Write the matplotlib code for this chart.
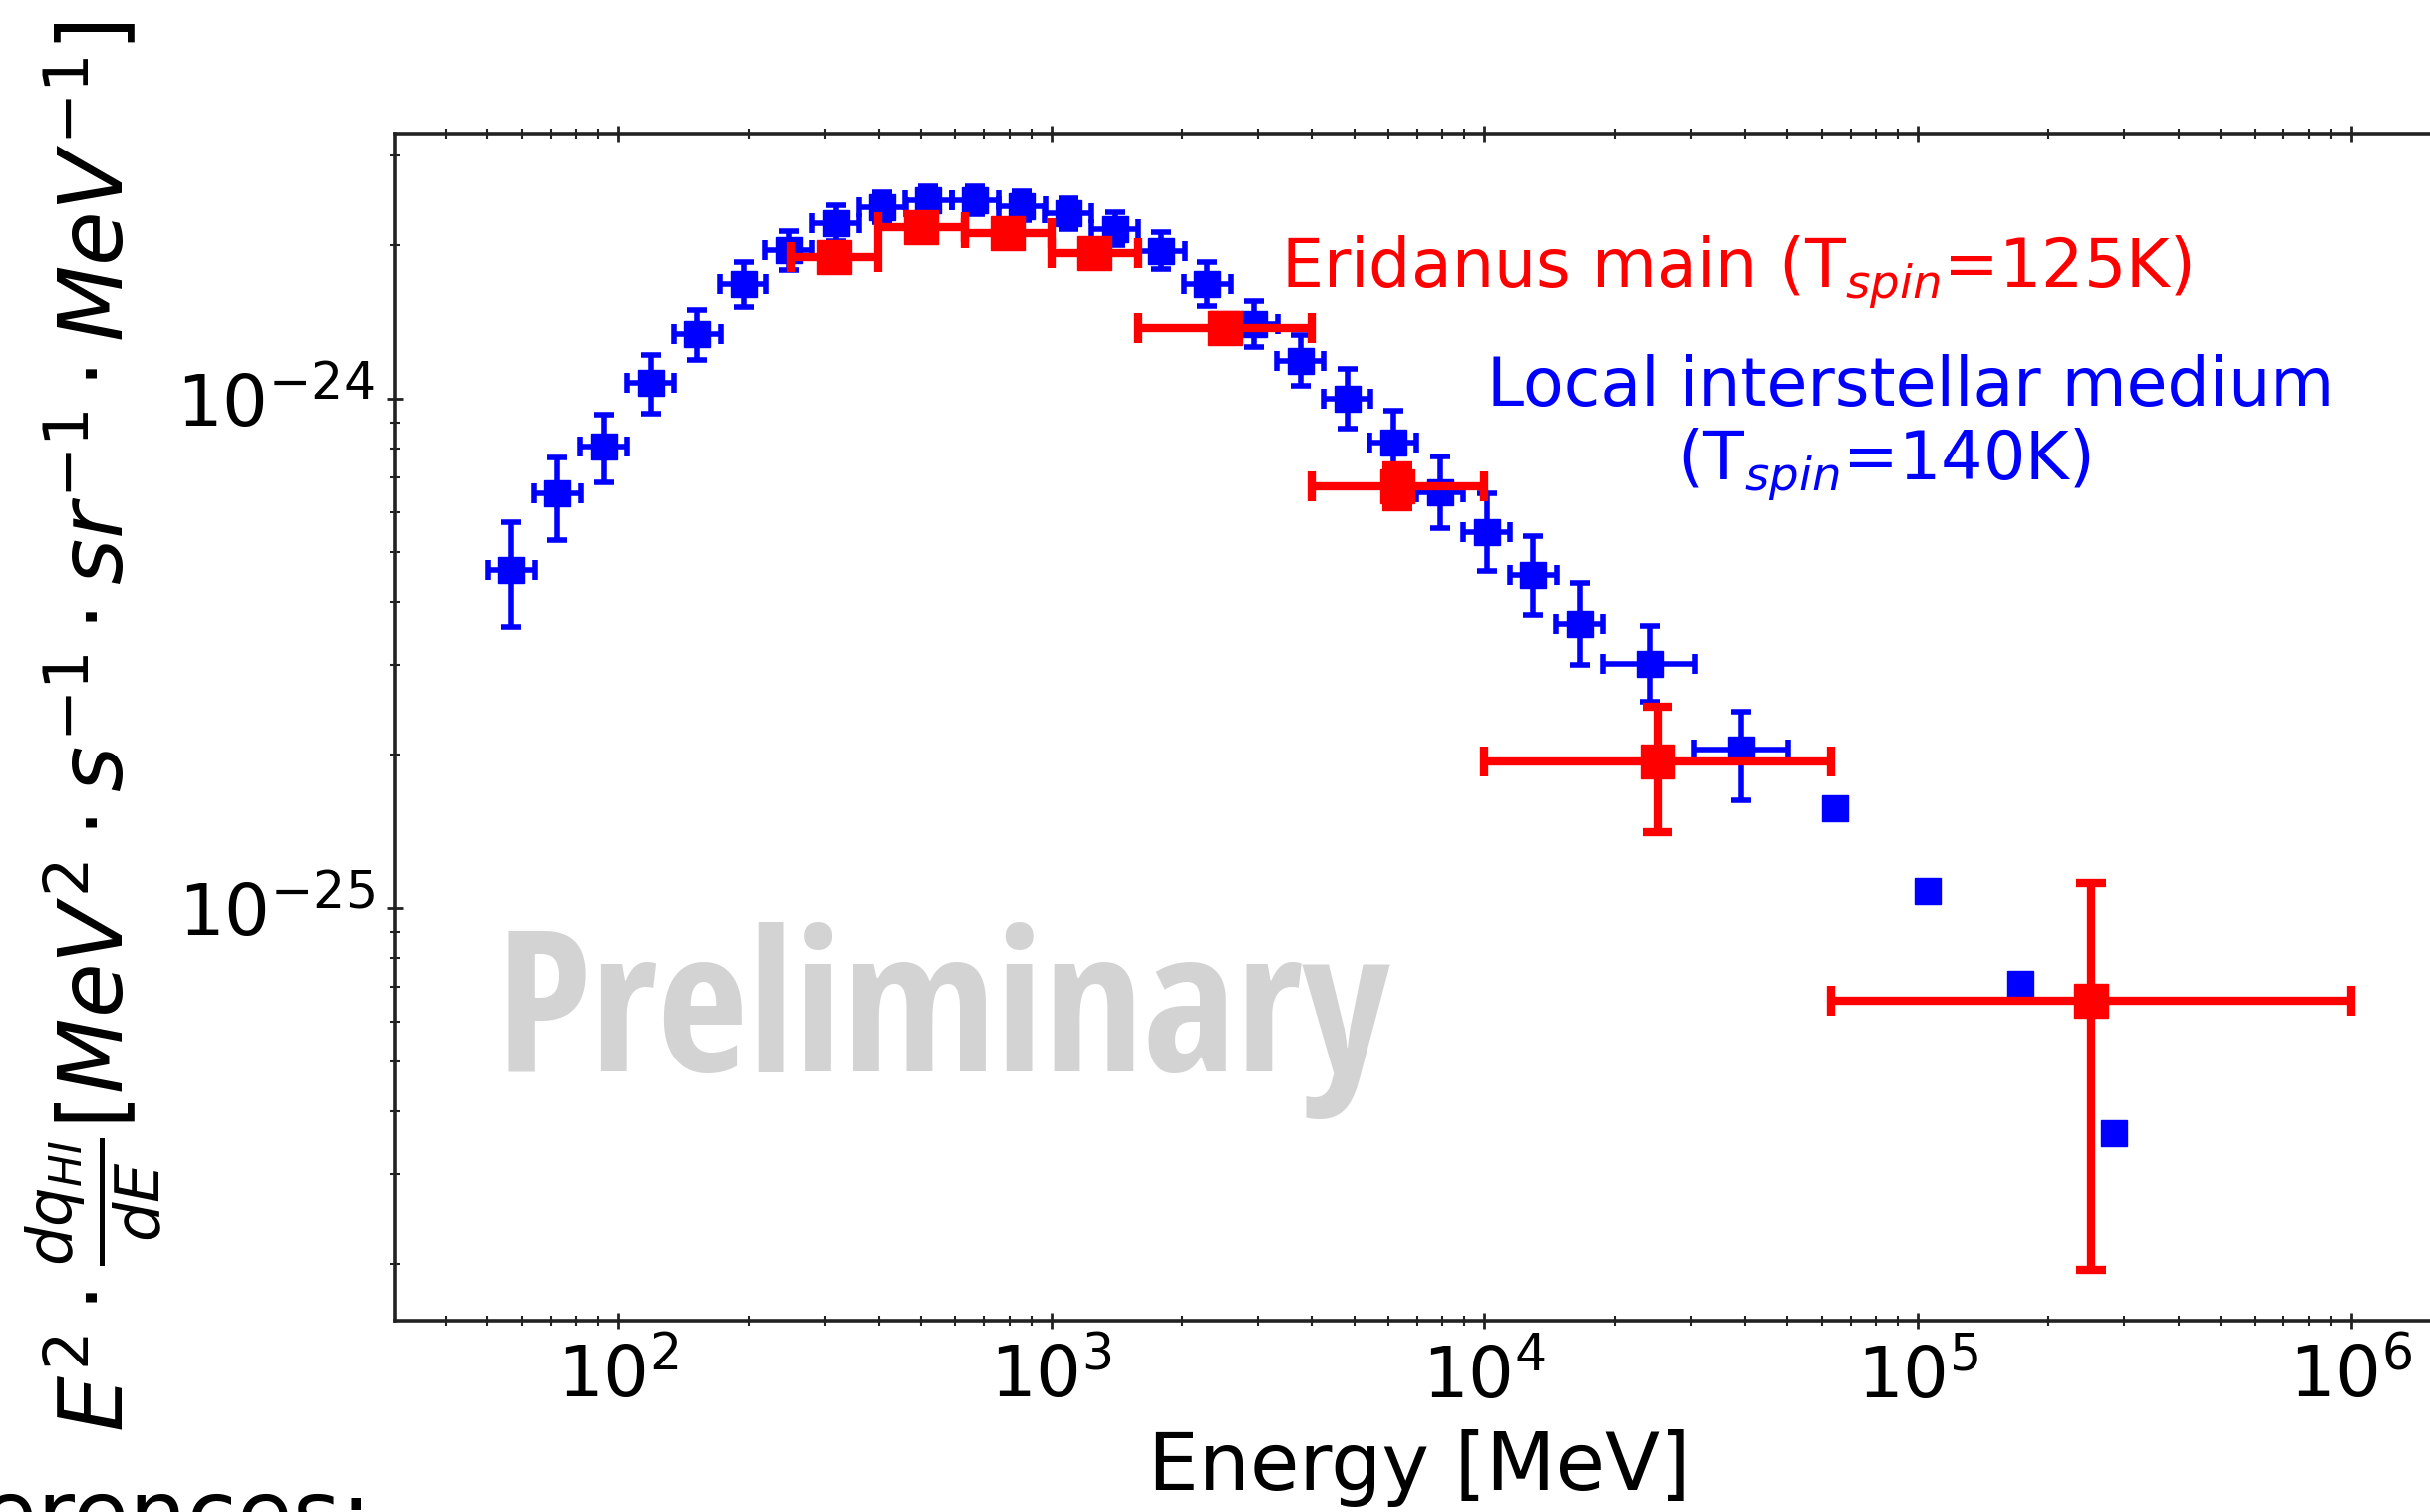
import numpy as np
import matplotlib
matplotlib.use("Agg")
import matplotlib.pyplot as plt
from matplotlib import font_manager as fm
from matplotlib.ticker import NullFormatter

# ---------------- data ----------------
# Local interstellar medium (blue), energy in MeV, flux in units of 1e-25
blue_energy = [56.8, 72.4, 92.7, 118.9, 152.1, 194.5, 248.3, 318.4, 407.4, 520.0,
               666.8, 855.1, 1094, 1403, 1795, 2291, 2938, 3758, 4819, 6152,
               7889, 10116, 12942, 16558, 23988, 39084, 64269, 105196, 172982, 283792]
blue_flux = [4.61, 6.52, 8.07, 10.76, 13.43, 16.83, 19.63, 22.18, 23.77, 24.55,
             24.55, 23.93, 23.12, 21.58, 19.54, 16.83, 14.03, 11.91, 10.02, 8.22,
             6.56, 5.48, 4.50, 3.62, 3.02, 2.05, 1.57, 1.08, 0.710, 0.361]
# error half-widths in dex (log10)
blue_xerr_dex = [0.054] * 24 + [0.108, 0.108] + [0, 0, 0, 0]
blue_yerr_dex_lo = [0.112, 0.091, 0.071, 0.061, 0.052, 0.045, 0.040, 0.036, 0.030, 0.028,
                    0.028, 0.028, 0.030, 0.032, 0.036, 0.043, 0.045, 0.049, 0.059, 0.062,
                    0.070, 0.076, 0.077, 0.080, 0.075, 0.100, 0, 0, 0, 0]
blue_yerr_dex_hi = [0.094, 0.071, 0.062, 0.054, 0.047, 0.042, 0.037, 0.034, 0.030, 0.028,
                    0.028, 0.028, 0.030, 0.032, 0.036, 0.043, 0.045, 0.049, 0.059, 0.062,
                    0.070, 0.076, 0.077, 0.080, 0.075, 0.075, 0, 0, 0, 0]

# Eridanus main (red)
red_energy = [316.2, 501.2, 794.3, 1258.9, 2511.9, 6309.6, 25119, 251189]
red_energy_lo = [251, 398, 631, 1000, 1585, 3981, 10000, 63096]
red_energy_hi = [398, 631, 1000, 1585, 3981, 10000, 63096, 1000000]
red_flux = [18.97, 21.7, 21.2, 19.3, 13.8, 6.74, 1.945, 0.658]
red_flux_lo = [18.1, 20.7, 20.2, 18.4, 13.0, 6.13, 1.41, 0.195]
red_flux_hi = [19.9, 22.7, 22.2, 20.2, 14.6, 7.40, 2.49, 1.12]
FLUX_UNIT = 1e-25

red_label = r'Eridanus main (T$_{spin}$=125K)'
blue_label_1 = 'Local interstellar medium'
blue_label_2 = r'(T$_{spin}$=140K)'
xlabel = 'Energy [MeV]'
ylabel = r'$E^2\cdot\frac{dq_{HI}}{dE}[MeV^2\cdot s^{-1}\cdot sr^{-1}\cdot MeV^{-1}]$'
watermark = 'Preliminary'
footer = 'References:'

# ---------------- figure ----------------
W, H = 2438, 1517
DPI = 100
fig = plt.figure(figsize=(W / DPI, H / DPI), dpi=DPI, facecolor='white')


def fx(px):
    return px / W


def fy(py):
    return 1 - py / H


ax = fig.add_axes([fx(396), fy(1325), (2452 - 396) / W, (1325 - 134) / H])
ax.set_xscale('log')
ax.set_yscale('log')
ax.set_xlim(30.5, 1.64e6)
ax.set_ylim(1.55e-26, 3.32e-24)

# blue series
bE = np.array(blue_energy)
bF = np.array(blue_flux) * FLUX_UNIT
dx = np.array(blue_xerr_dex)
dlo = np.array(blue_yerr_dex_lo)
dhi = np.array(blue_yerr_dex_hi)
has = dx > 0
xe = [bE[has] * (1 - 10 ** -dx[has]), bE[has] * (10 ** dx[has] - 1)]
ye = [bF[has] * (1 - 10 ** -dlo[has]), bF[has] * (10 ** dhi[has] - 1)]
ax.errorbar(bE[has], bF[has], xerr=xe, yerr=ye, fmt='s', color='blue', ms=18.5,
            elinewidth=4.0, capsize=7, capthick=4.0, zorder=3)
ax.plot(bE[~has], bF[~has], 's', color='blue', ms=18.5, zorder=3)

# red series
rE = np.array(red_energy)
rF = np.array(red_flux) * FLUX_UNIT
rxe = [rE - np.array(red_energy_lo), np.array(red_energy_hi) - rE]
rye = [rF - np.array(red_flux_lo) * FLUX_UNIT, np.array(red_flux_hi) * FLUX_UNIT - rF]
ax.errorbar(rE, rF, xerr=rxe, yerr=rye, fmt='s', color='red', ms=24,
            elinewidth=6.0, capsize=10.5, capthick=6.0, zorder=4)

# axes styling
for s in ax.spines.values():
    s.set_linewidth(2.6)
    s.set_color('#222222')
ax.tick_params(which='major', direction='inout', length=11, width=2.0,
               labelsize=52, top=True, right=True, pad=9, colors='#222222',
               labelcolor='black')
ax.tick_params(which='minor', direction='inout', length=7, width=1.5,
               top=True, right=True, colors='#222222')
ax.xaxis.set_minor_formatter(NullFormatter())
ax.yaxis.set_minor_formatter(NullFormatter())
ax.set_xlabel(xlabel, fontsize=58, labelpad=12)
ax.set_ylabel(ylabel, fontsize=64, labelpad=8)

# annotations
fig.text(fx(1285), fy(289), red_label, color='red', fontsize=48, ha='left', va='baseline')
fig.text(fx(1917), fy(407), blue_label_1, color='blue', fontsize=48, ha='center', va='baseline')
fig.text(fx(1890), fy(482), blue_label_2, color='blue', fontsize=48, ha='center', va='baseline')
fig.text(fx(373), fy(1551), footer, color='black', fontsize=66, ha='right', va='baseline')


# watermark in a condensed bold face if available
def pick_condensed_bold():
    entries = fm.fontManager.ttflist

    def is_bold(f):
        w = f.weight
        if isinstance(w, str):
            return w.lower() in ('bold', 'heavy', 'black', 'extra bold', 'demibold', 'semibold')
        return w >= 600

    def is_narrow(f):
        st = f.stretch
        name = f.name.lower()
        fname = f.fname.lower()
        if 'condensed' in name or 'narrow' in name or 'condensed' in fname or 'narrow' in fname:
            return True
        if isinstance(st, str):
            return 'condensed' in st
        return st < 500

    cands = [f for f in entries if is_bold(f) and is_narrow(f)]
    prefs = ['open sans', 'roboto', 'liberation sans narrow', 'noto sans', 'dejavu sans']
    for p in prefs:
        for f in cands:
            if p in f.name.lower():
                return fm.FontProperties(fname=f.fname)
    if cands:
        return fm.FontProperties(fname=cands[0].fname)
    return fm.FontProperties(family='DejaVu Sans', weight='bold')


wm_fp = pick_condensed_bold()
wm_fp.set_size(100)
wm = ax.text(fx(498), fy(1075), watermark, transform=fig.transFigure, color='#d3d3d3',
             fontproperties=wm_fp, ha='left', va='baseline', zorder=1)
fig.canvas.draw()
bb = wm.get_window_extent()
size = 100 * 897 / bb.width
wm_fp.set_size(min(size, 145))
wm.set_fontproperties(wm_fp)

fig.savefig('out.png', dpi=DPI, facecolor='white')
